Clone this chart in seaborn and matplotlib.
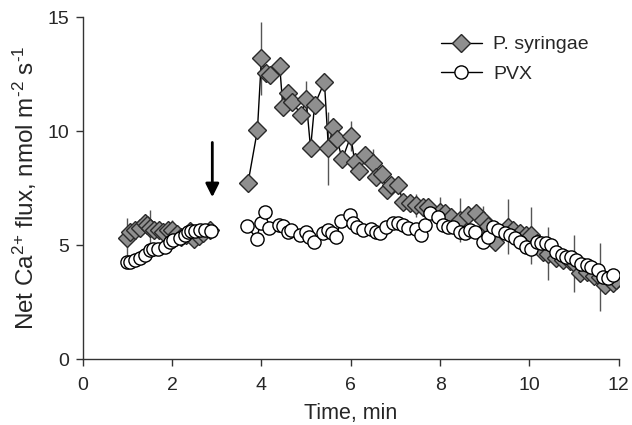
import numpy as np
import pandas as pd
import matplotlib
matplotlib.use("Agg")
import matplotlib.pyplot as plt
from matplotlib.lines import Line2D
import seaborn as sns

# ---------------------------
# data
# ---------------------------
ps_time_1 = [1.00, 1.05, 1.16, 1.28, 1.39, 1.43, 1.50, 1.60, 1.70, 1.80,
             1.91, 1.99, 2.10, 2.20, 2.30, 2.40, 2.50, 2.60, 2.70, 2.84]
ps_flux_1 = [5.29, 5.58, 5.68, 5.75, 5.98, 5.87, 5.77, 5.68, 5.65, 5.58,
             5.68, 5.66, 5.50, 5.35, 5.45, 5.60, 5.25, 5.40, 5.55, 5.66]

ps_time_2 = [3.70, 3.91, 4.00, 4.10, 4.19, 4.41, 4.48, 4.60, 4.69, 4.89,
             5.00, 5.10, 5.19, 5.41, 5.50, 5.60, 5.69, 5.81, 6.00, 6.09,
             6.19, 6.31, 6.50, 6.57, 6.69, 6.81, 6.91, 7.06, 7.17, 7.32,
             7.47, 7.62, 7.73, 7.99, 8.10, 8.25, 8.44, 8.63, 8.81, 8.96,
             9.08, 9.22, 9.52, 9.63, 9.80, 9.92, 10.04, 10.18, 10.30, 10.42,
             10.60, 10.75, 10.90, 11.00, 11.13, 11.30, 11.45, 11.58, 11.69, 11.87,
             11.95]
ps_flux_2 = [7.73, 10.04, 13.20, 12.56, 12.46, 12.85, 11.04, 11.68, 11.29, 10.70,
             11.40, 9.24, 11.14, 12.15, 9.24, 10.19, 9.64, 8.76, 9.77, 8.65,
             8.26, 8.95, 8.61, 8.00, 8.11, 7.41, 7.63, 7.63, 6.90, 6.83,
             6.75, 6.68, 6.68, 6.46, 6.39, 6.24, 6.10, 6.32, 6.39, 6.10,
             5.85, 5.14, 5.80, 5.66, 5.55, 5.45, 5.44, 5.10, 4.71, 4.63,
             4.45, 4.35, 4.30, 4.20, 3.76, 3.80, 3.65, 3.60, 3.25, 3.32,
             3.46]

ps_err_time = [1.00, 1.50, 1.99, 2.50, 4.00, 5.00, 5.50, 6.00, 6.50, 7.47,
               7.99, 8.44, 8.96, 9.52, 10.04, 10.42, 11.00, 11.58]
ps_err_size = [0.90, 0.75, 0.45, 0.30, 1.60, 0.80, 1.60, 0.65, 0.60, 0.50,
               0.65, 0.95, 0.60, 1.20, 1.25, 1.15, 1.25, 1.47]

pvx_time_1 = [0.98, 1.05, 1.16, 1.28, 1.39, 1.50, 1.57, 1.69, 1.84, 1.95,
              2.02, 2.17, 2.28, 2.36, 2.43, 2.51, 2.62, 2.73, 2.88]
pvx_flux_1 = [4.27, 4.27, 4.34, 4.45, 4.56, 4.78, 4.85, 4.81, 4.93, 5.15,
              5.22, 5.29, 5.45, 5.58, 5.62, 5.60, 5.64, 5.66, 5.60]

pvx_time_2 = [3.68, 3.89, 3.98, 4.09, 4.17, 4.40, 4.48, 4.60, 4.67, 4.86,
              4.99, 5.07, 5.17, 5.38, 5.49, 5.57, 5.66, 5.79, 5.98, 6.05,
              6.14, 6.27, 6.46, 6.57, 6.65, 6.80, 6.95, 7.06, 7.17, 7.28,
              7.47, 7.58, 7.66, 7.77, 7.95, 8.07, 8.18, 8.29, 8.44, 8.55,
              8.66, 8.78, 8.96, 9.07, 9.18, 9.30, 9.45, 9.56, 9.67, 9.78,
              9.93, 10.04, 10.16, 10.27, 10.38, 10.49, 10.60, 10.72, 10.83, 10.94,
              11.05, 11.16, 11.28, 11.39, 11.54, 11.65, 11.76, 11.87]
pvx_flux_2 = [5.83, 5.28, 5.95, 6.43, 5.73, 5.88, 5.83, 5.58, 5.66, 5.44,
              5.58, 5.36, 5.15, 5.51, 5.66, 5.51, 5.36, 6.07, 6.32, 5.98,
              5.80, 5.66, 5.69, 5.58, 5.54, 5.80, 5.98, 5.95, 5.88, 5.73,
              5.69, 5.44, 5.88, 6.39, 6.24, 5.88, 5.80, 5.80, 5.58, 5.51,
              5.66, 5.58, 5.14, 5.36, 5.80, 5.66, 5.51, 5.44, 5.29, 5.14,
              4.92, 4.85, 5.14, 5.07, 5.07, 5.00, 4.71, 4.56, 4.49, 4.49,
              4.34, 4.19, 4.12, 4.05, 3.90, 3.61, 3.54, 3.68]

arrow_time = 2.9
arrow_top, arrow_bottom = 9.5, 7.1

# ---------------------------
# tables
# ---------------------------
ps = pd.concat([
    pd.DataFrame({"time": ps_time_1, "flux": ps_flux_1, "seg": 1}),
    pd.DataFrame({"time": ps_time_2, "flux": ps_flux_2, "seg": 2}),
])
pvx = pd.concat([
    pd.DataFrame({"time": pvx_time_1, "flux": pvx_flux_1, "seg": 1}),
    pd.DataFrame({"time": pvx_time_2, "flux": pvx_flux_2, "seg": 2}),
])
err = pd.DataFrame({"time": ps_err_time, "sd": ps_err_size}).merge(ps, on="time")

# ---------------------------
# plot
# ---------------------------
sns.set_style("ticks")
plt.rcParams["font.family"] = ["Liberation Sans", "DejaVu Sans"]
plt.rcParams["mathtext.fontset"] = "custom"
plt.rcParams["mathtext.rm"] = "Liberation Sans"
plt.rcParams["mathtext.it"] = "Liberation Sans"

fig, ax = plt.subplots(figsize=(6.32, 4.25), dpi=100)
fig.subplots_adjust(left=0.131, right=0.979, bottom=0.155, top=0.96)

ax.errorbar(err["time"], err["flux"], yerr=err["sd"], fmt="none",
            ecolor="#555555", elinewidth=1.0, capsize=0, zorder=2)

sns.lineplot(data=ps, x="time", y="flux", units="seg", estimator=None,
             sort=False, color="black", linewidth=1.0, marker="D",
             markersize=9, markerfacecolor="#8f8f8f", markeredgecolor="#2a2a2a",
             markeredgewidth=1.0, ax=ax, zorder=3)
sns.lineplot(data=pvx, x="time", y="flux", units="seg", estimator=None,
             sort=False, color="black", linewidth=1.0, marker="o",
             markersize=9.5, markerfacecolor="white", markeredgecolor="black",
             markeredgewidth=1.0, ax=ax, zorder=4)

ax.annotate("", xy=(arrow_time, arrow_bottom), xytext=(arrow_time, arrow_top),
            arrowprops=dict(arrowstyle="-|>", color="black", lw=2.0,
                            mutation_scale=20, shrinkA=0, shrinkB=0))

ax.set_xlim(0, 12)
ax.set_ylim(0, 15)
ax.set_xticks([0, 2, 4, 6, 8, 10, 12])
ax.set_yticks([0, 5, 10, 15])
ax.tick_params(labelsize=14, length=5, width=1, color="#333333")
ax.tick_params(axis="x", pad=8)
ax.tick_params(axis="y", pad=5)
for s in ["left", "bottom"]:
    ax.spines[s].set_color("#333333")
    ax.spines[s].set_linewidth(1)
sns.despine(ax=ax)
ax.set_xlabel("Time, min", fontsize=15.5, labelpad=6)
ax.set_ylabel(r"Net Ca$^{\text{2+}}$ flux, nmol m$^{\text{-2}}$ s$^{\text{-1}}$",
              fontsize=17.5, labelpad=6)

handles = [
    Line2D([], [], color="black", lw=1, marker="D", markersize=9,
           markerfacecolor="#8f8f8f", markeredgecolor="#2a2a2a"),
    Line2D([], [], color="black", lw=1, marker="o", markersize=9.5,
           markerfacecolor="white", markeredgecolor="black"),
]
ax.legend(handles, ["P. syringae", "PVX"], loc="upper left",
          bbox_to_anchor=(0.668, 0.945), frameon=False, fontsize=14,
          handlelength=2.1, handletextpad=0.6, labelspacing=0.6,
          borderpad=0, borderaxespad=0)

plt.savefig("out.png", dpi=100)
